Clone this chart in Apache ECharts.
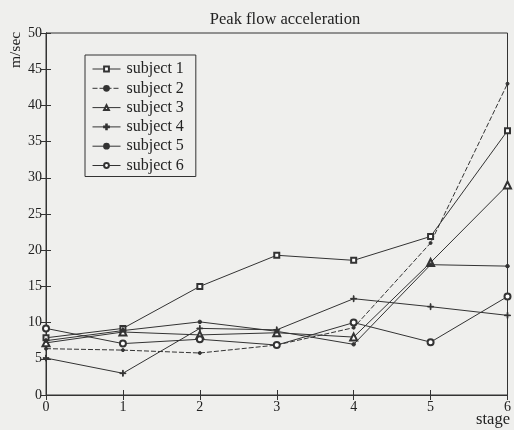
<!DOCTYPE html>
<html>
<head>
<meta charset="utf-8">
<script src="https://cdn.jsdelivr.net/npm/echarts@6/dist/echarts.min.js"></script>
<style>
html,body{margin:0;padding:0;background:#efefed;}
#c{width:514px;height:430px;}
</style>
</head>
<body>
<div id="c"></div>
<script>
const stages = [0, 1, 2, 3, 4, 5, 6];
const subject1 = [7.9, 9.2, 15.0, 19.3, 18.6, 21.9, 36.5];
const subject2 = [6.4, 6.2, 5.8, 6.9, 9.3, 21.0, 43.0];
const subject3 = [7.2, 8.7, 8.3, 8.6, 8.0, 18.3, 29.0];
const subject4 = [5.1, 3.0, 9.2, 9.0, 13.3, 12.2, 11.0];
const subject5 = [7.5, 8.9, 10.1, 8.8, 7.0, 18.0, 17.8];
const subject6 = [9.2, 7.1, 7.7, 6.9, 10.0, 7.3, 13.6];
const names = ['subject 1', 'subject 2', 'subject 3', 'subject 4', 'subject 5', 'subject 6'];
const yTicks = [0, 5, 10, 15, 20, 25, 30, 35, 40, 45, 50];
const xTicks = stages;

const FONT = "'Liberation Serif', 'DejaVu Serif', serif";
const INK = '#333333';
const BG = '#efefed';
const plus = 'path://M4.4,0H5.6V4.4H10V5.6H5.6V10H4.4V5.6H0V4.4H4.4Z';

const specs = [
  {data: subject1, symbol: 'emptyRect', size: 5, type: 'solid'},
  {data: subject2, symbol: 'circle', size: 3, type: [5, 2]},
  {data: subject3, symbol: 'emptyTriangle', size: 7, type: 'solid'},
  {data: subject4, symbol: plus, size: 6, type: 'solid'},
  {data: subject5, symbol: 'circle', size: 3.5, type: 'solid'},
  {data: subject6, symbol: 'emptyCircle', size: 6, type: 'solid'}
];

const series = specs.map((s, i) => ({
  name: names[i],
  type: 'line',
  data: stages.map((x, k) => [x, s.data[k]]),
  symbol: s.symbol,
  symbolSize: s.size,
  showAllSymbol: true,
  lineStyle: {color: INK, width: 1, type: s.type},
  itemStyle: {color: INK, borderColor: INK, borderWidth: 1},
  emphasis: {disabled: true},
  animation: false,
  z: 3
}));

const chart = echarts.init(document.getElementById('c'), null, {renderer: 'canvas'});
const tickStyle = {show: true, inside: true, length: 5, lineStyle: {color: INK, width: 1}};
chart.setOption({
  backgroundColor: BG,
  animation: false,
  title: {
    text: 'Peak flow acceleration',
    left: 280, top: 6, textAlign: 'center',
    textStyle: {fontFamily: FONT, fontSize: 16.5, fontWeight: 'normal', color: '#222'}
  },
  grid: {left: 46, right: 3, top: 33, bottom: 35, show: true, borderColor: INK, borderWidth: 1, backgroundColor: 'transparent'},
  legend: {
    orient: 'vertical', left: 85, top: 55,
    itemWidth: 28, itemHeight: 6, itemGap: 3.3,
    padding: [6, 12, 3, 7],
    borderColor: INK, borderWidth: 1, backgroundColor: BG,
    lineStyle: {width: 1},
    textStyle: {fontFamily: FONT, fontSize: 16, color: '#222', padding: [0, 0, 0, 1]},
    data: names,
    selectedMode: false
  },
  xAxis: [
    {type: 'value', min: 0, max: 6, interval: 1, position: 'bottom',
     axisLine: {show: true, lineStyle: {color: INK, width: 1}},
     axisTick: tickStyle, splitLine: {show: false},
     axisLabel: {margin: 5, fontFamily: FONT, fontSize: 14, color: '#222',
       formatter: v => xTicks.indexOf(v) >= 0 ? String(v) : ''}},
    {type: 'value', min: 0, max: 6, interval: 1, position: 'top',
     axisLine: {show: true, lineStyle: {color: INK}}, axisTick: tickStyle,
     axisLabel: {show: false}, splitLine: {show: false}}
  ],
  yAxis: [
    {type: 'value', min: 0, max: 50, interval: 5, position: 'left',
     axisLine: {show: true, lineStyle: {color: INK, width: 1}},
     axisTick: tickStyle, splitLine: {show: false},
     axisLabel: {margin: 4, fontFamily: FONT, fontSize: 14, color: '#222',
       formatter: v => yTicks.indexOf(v) >= 0 ? String(v) : ''}},
    {type: 'value', min: 0, max: 50, interval: 5, position: 'right',
     axisLine: {show: true, lineStyle: {color: INK}}, axisTick: tickStyle,
     axisLabel: {show: false}, splitLine: {show: false}}
  ],
  graphic: [
    {type: 'text', x: 8, y: 68, rotation: Math.PI / 2,
     style: {text: 'm/sec', fontFamily: FONT, fontSize: 15.5, fill: '#222', textAlign: 'left', textVerticalAlign: 'top'}},
    {type: 'text', x: 510, y: 411,
     style: {text: 'stage', fontFamily: FONT, fontSize: 16.5, fill: '#222', textAlign: 'right', textVerticalAlign: 'top'}}
  ],
  series: series
});
</script>
</body>
</html>
